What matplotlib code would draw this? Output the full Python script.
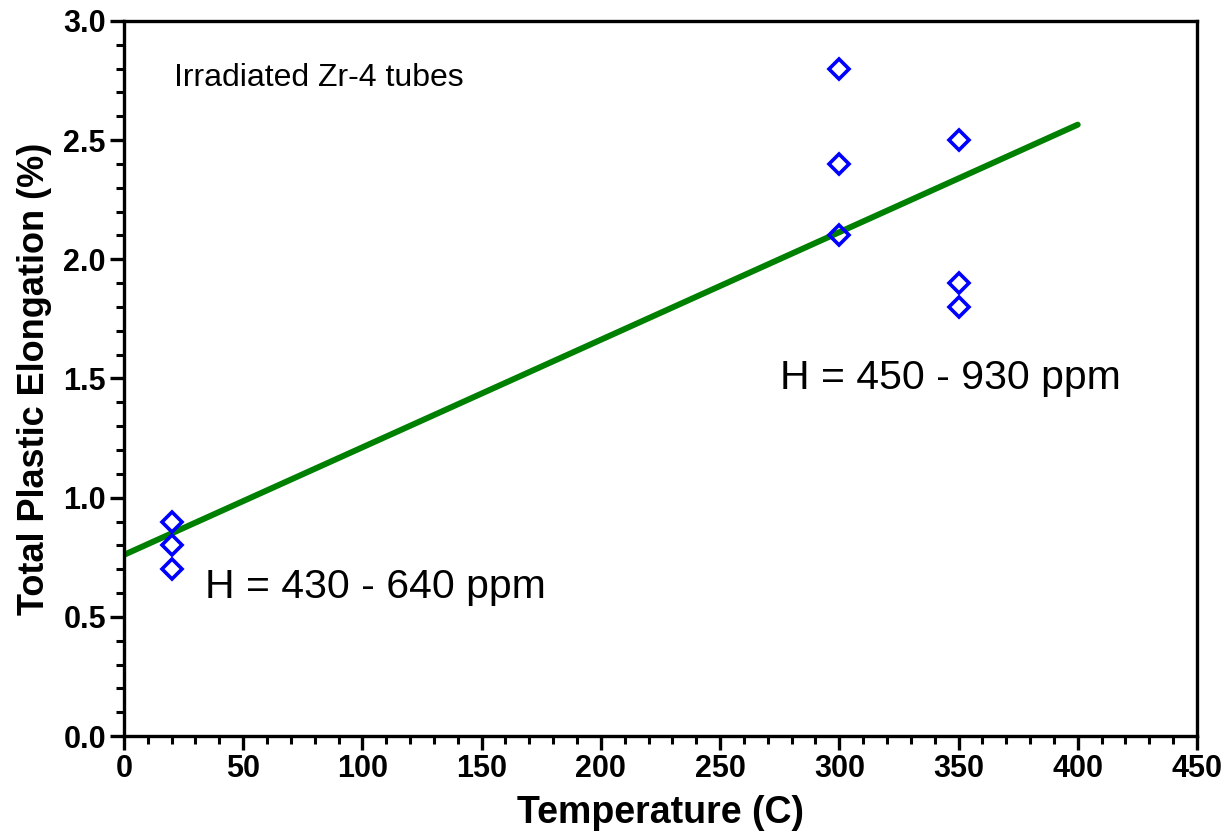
import matplotlib.pyplot as plt
from matplotlib.ticker import MultipleLocator

plt.rcParams['font.family'] = ['Liberation Sans', 'DejaVu Sans']

# Data
temp_20 = [20, 20, 20]
elong_20 = [0.9, 0.8, 0.7]
temp_300 = [300, 300, 300]
elong_300 = [2.8, 2.4, 2.1]
temp_350 = [350, 350, 350]
elong_350 = [2.5, 1.9, 1.8]

# Linear fit line endpoints
fit_x = [0, 400]
fit_y = [0.76, 2.565]

fig = plt.figure(figsize=(12.26, 8.36), dpi=100)
ax = fig.add_axes([0.1011, 0.1196, 0.8752, 0.8553])

ax.plot(fit_x, fit_y, color='#008000', linewidth=4.3, solid_capstyle='round', zorder=2)

temps = temp_20 + temp_300 + temp_350
elongs = elong_20 + elong_300 + elong_350
ax.plot(temps, elongs, linestyle='none', marker='D', markersize=10.5,
        markerfacecolor='none', markeredgecolor='#0000ff', markeredgewidth=2.6, zorder=3)

ax.set_xlim(0, 450)
ax.set_ylim(0, 3.0)
ax.xaxis.set_major_locator(MultipleLocator(50))
ax.xaxis.set_minor_locator(MultipleLocator(10))
ax.yaxis.set_major_locator(MultipleLocator(0.5))
ax.yaxis.set_minor_locator(MultipleLocator(0.1))
ax.yaxis.set_major_formatter(plt.FormatStrFormatter('%.1f'))

for s in ax.spines.values():
    s.set_linewidth(2.4)
ax.tick_params(which='major', direction='out', length=10, width=2.4, labelsize=22, pad=3)
ax.tick_params(which='minor', direction='out', length=6, width=2.2)
for lbl in ax.get_xticklabels() + ax.get_yticklabels():
    lbl.set_fontweight('bold')

ax.set_xlabel('Temperature (C)', fontsize=27, fontweight='bold', labelpad=8)
ax.set_ylabel('Total Plastic Elongation (%)', fontsize=26, fontweight='bold', labelpad=8)

ax.text(21, 2.76, 'Irradiated Zr-4 tubes', fontsize=23, va='center', ha='left')
ax.text(275, 1.50, 'H = 450 - 930 ppm', fontsize=29.5, va='center', ha='left')
ax.text(34, 0.625, 'H = 430 - 640 ppm', fontsize=29.5, va='center', ha='left')

plt.savefig('out.png', dpi=100)
